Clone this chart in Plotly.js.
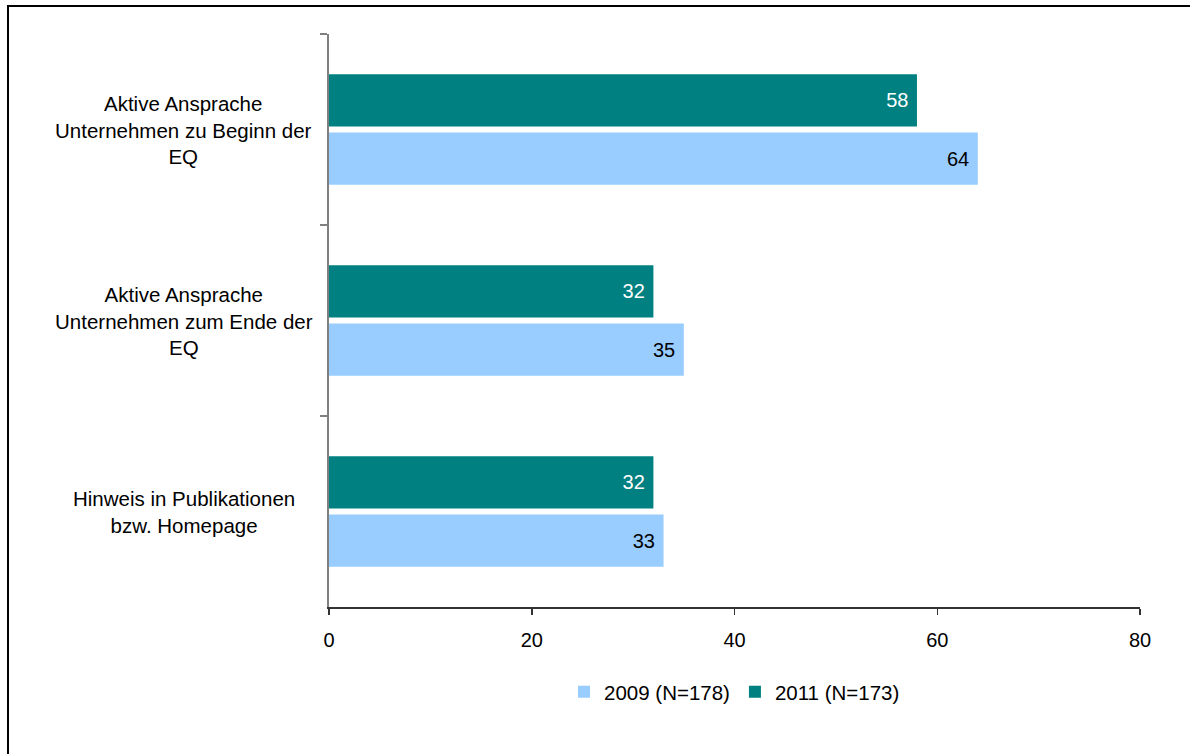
<!DOCTYPE html>
<html>
<head>
<meta charset="utf-8">
<script src="https://cdn.plot.ly/plotly-3.0.1.min.js"></script>
<style>
html,body{margin:0;padding:0;background:#fff;}
#wrap{position:relative;width:1190px;height:754px;}
#chart{width:1190px;height:754px;}
#frame{position:absolute;left:7px;top:5px;right:0;bottom:0;border-top:2px solid #000;border-left:2px solid #000;pointer-events:none;}
</style>
</head>
<body>
<div id="wrap"><div id="chart"></div><div id="frame"></div></div>
<script>
const categories = [
  "Aktive Ansprache<br>Unternehmen zu Beginn der<br>EQ",
  "Aktive Ansprache<br>Unternehmen zum Ende der<br>EQ",
  "Hinweis in Publikationen<br>bzw. Homepage"
];
const seriesNames = ["2011 (N=173)", "2009 (N=178)"];
const values2011 = [58, 32, 32];
const values2009 = [64, 35, 33];
const xTicks = [0, 20, 40, 60, 80];

const FONT = "Liberation Sans, Arial, sans-serif";

const traces = [
  {
    type: "bar", orientation: "h", name: seriesNames[0],
    y: categories, x: values2011,
    marker: {color: "#008080"},
    text: values2011.map(v => v + "\u00a0"), textposition: "inside", insidetextanchor: "end",
    textfont: {color: "#ffffff", size: 20, family: FONT},
    hoverinfo: "x+name"
  },
  {
    type: "bar", orientation: "h", name: seriesNames[1],
    y: categories, x: values2009,
    marker: {color: "#99CCFF"},
    text: values2009.map(v => v + "\u00a0"), textposition: "inside", insidetextanchor: "end",
    textfont: {color: "#000000", size: 20, family: FONT},
    hoverinfo: "x+name"
  }
];

const annotations = categories.map(c => ({
  xref: "paper", yref: "y", x: -0.179, y: c,
  text: c, showarrow: false, xanchor: "center", yanchor: "middle", align: "center",
  font: {size: 20.5, family: FONT, color: "#000"}
}));

const layout = {
  width: 1190, height: 754,
  margin: {l: 329, r: 50, t: 34, b: 147, pad: 0},
  paper_bgcolor: "#fff", plot_bgcolor: "#fff",
  font: {family: FONT, size: 20, color: "#000"},
  barmode: "group", bargap: 0.39, bargroupgap: 0.1,
  showlegend: true,
  legend: {orientation: "h", x: 0.5, xanchor: "center", y: -0.148, yanchor: "middle",
           traceorder: "reversed", font: {size: 20.5, family: FONT}, itemwidth: 30},
  xaxis: {
    range: [0, 80], tickvals: xTicks, ticktext: xTicks.map(String),
    showgrid: false, zeroline: false, showline: true, linecolor: "#333", linewidth: 2,
    ticks: "outside", ticklen: 6, tickcolor: "#333", tickwidth: 1.5,
    ticklabelstandoff: 8,
    tickfont: {size: 20, family: FONT}, fixedrange: true
  },
  yaxis: {
    type: "category", autorange: "reversed", tickson: "boundaries",
    showticklabels: false, showgrid: false, zeroline: false,
    showline: true, linecolor: "#808080", linewidth: 2,
    ticks: "outside", ticklen: 7, tickcolor: "#808080", tickwidth: 2, fixedrange: true
  },
  annotations: annotations
};

Plotly.newPlot("chart", traces, layout, {displayModeBar: false, staticPlot: true});
</script>
</body>
</html>
